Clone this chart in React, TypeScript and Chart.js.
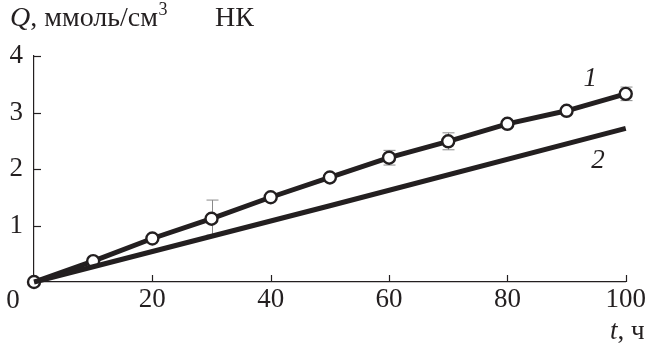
import React, { useEffect, useRef } from "react";
import { Chart, registerables } from "chart.js";

Chart.register(...registerables);

const timeH = [0, 10, 20, 30, 40, 50, 60, 70, 80, 90, 100];
const series1 = [0, 0.37, 0.77, 1.12, 1.5, 1.85, 2.2, 2.49, 2.8, 3.03, 3.33];
const err1Up = [0, 0, 0, 0.33, 0, 0, 0.13, 0.15, 0, 0, 0.12];
const err1Down = [0, 0, 0, 0.29, 0, 0, 0.13, 0.15, 0, 0, 0.12];
const time2 = [0, 50, 100];
const series2 = [0, 1.35, 2.72];
const xTicks = [0, 20, 40, 60, 80, 100];
const yTicks = [0, 1, 2, 3, 4];
const curveLabels = ["1", "2"];
const curveLabelX = [94, 95.3];
const curveLabelY = [3.6, 2.15];

const FONT = "'Liberation Serif', 'Times New Roman', serif";
const FS = 27;
const FT = 28;
const INK = "#231f20";

const annotate = {
  id: "annotate",
  beforeDatasetsDraw(chart: any) {
    const ctx = chart.ctx;
    const x = chart.scales.x;
    const y = chart.scales.y;
    ctx.save();
    ctx.strokeStyle = "#8a8a8a";
    ctx.lineWidth = 1;
    timeH.forEach((t, i) => {
      if (!err1Up[i] && !err1Down[i]) return;
      const px = Math.round(x.getPixelForValue(t)) + 0.5;
      const top = y.getPixelForValue(series1[i] + err1Up[i]);
      const bot = y.getPixelForValue(series1[i] - err1Down[i]);
      ctx.beginPath();
      ctx.moveTo(px, top);
      ctx.lineTo(px, bot);
      ctx.moveTo(px - 6, top);
      ctx.lineTo(px + 6, top);
      ctx.moveTo(px - 6, bot);
      ctx.lineTo(px + 6, bot);
      ctx.stroke();
    });
    ctx.restore();
  },
  afterDraw(chart: any) {
    const ctx = chart.ctx;
    const x = chart.scales.x;
    const y = chart.scales.y;
    const area = chart.chartArea;
    ctx.save();
    ctx.strokeStyle = INK;
    ctx.lineWidth = 1.2;
    xTicks.forEach((t) => {
      if (t === 0) return;
      const px = Math.round(x.getPixelForValue(t)) + 0.5;
      ctx.beginPath();
      ctx.moveTo(px, area.bottom);
      ctx.lineTo(px, area.bottom - 7);
      ctx.stroke();
    });
    yTicks.forEach((v) => {
      if (v === 0) return;
      const py = Math.round(y.getPixelForValue(v)) + 0.5;
      ctx.beginPath();
      ctx.moveTo(area.left, py);
      ctx.lineTo(area.left + 7, py);
      ctx.stroke();
    });
    ctx.fillStyle = INK;
    // origin label
    ctx.font = `${FS}px ${FONT}`;
    ctx.textAlign = "center";
    ctx.textBaseline = "middle";
    ctx.fillText("0", area.left - 21, area.bottom + 19);
    // curve labels
    ctx.font = `italic ${FS}px ${FONT}`;
    curveLabels.forEach((s, i) => {
      ctx.fillText(s, x.getPixelForValue(curveLabelX[i]), y.getPixelForValue(curveLabelY[i]));
    });
    // y title
    ctx.textAlign = "left";
    ctx.textBaseline = "alphabetic";
    let cx = 10;
    const by = 26;
    ctx.font = `italic ${FT}px ${FONT}`;
    ctx.fillText("Q", cx, by);
    cx += ctx.measureText("Q").width;
    ctx.font = `${FT}px ${FONT}`;
    const t1 = ", ммоль/см";
    ctx.fillText(t1, cx, by);
    cx += ctx.measureText(t1).width;
    ctx.font = `${Math.round(FT * 0.65)}px ${FONT}`;
    ctx.fillText("3", cx + 0.5, by - 11);
    ctx.font = `${FT}px ${FONT}`;
    ctx.fillText("НК", 215, by);
    // x title
    let tx = 610;
    const ty = 339;
    ctx.font = `italic ${FS}px ${FONT}`;
    ctx.fillText("t", tx, ty);
    tx += ctx.measureText("t").width;
    ctx.font = `${FS}px ${FONT}`;
    ctx.fillText(", ч", tx, ty);
    ctx.restore();
  },
};

export default function App() {
  const ref = useRef<HTMLCanvasElement>(null);
  useEffect(() => {
    if (!ref.current) return;
    const chart = new Chart(ref.current, {
      type: "line",
      data: {
        datasets: [
          {
            label: "2",
            data: time2.map((t, i) => ({ x: t, y: series2[i] })),
            borderColor: INK,
            borderWidth: 5,
            pointRadius: 0,
            fill: false,
            tension: 0,
            clip: false,
          },
          {
            label: "1",
            data: timeH.map((t, i) => ({ x: t, y: series1[i] })),
            borderColor: INK,
            borderWidth: 5,
            pointRadius: 6,
            pointBorderWidth: 2.4,
            pointBackgroundColor: "#ffffff",
            pointBorderColor: INK,
            fill: false,
            tension: 0,
            clip: false,
          },
        ],
      },
      options: {
        animation: false,
        responsive: true,
        maintainAspectRatio: false,
        layout: { padding: { left: 0, right: 22, top: 56, bottom: 0 } },
        plugins: {
          legend: { display: false },
          tooltip: { enabled: false },
          title: { display: false },
        },
        scales: {
          x: {
            type: "linear",
            min: 0,
            max: 100,
            afterBuildTicks: (s: any) => {
              s.ticks = xTicks.map((v) => ({ value: v }));
            },
            afterFit: (s: any) => {
              s.height = 64;
            },
            ticks: {
              callback: (v: any) => (v === 0 ? "" : String(v)),
              font: { family: FONT, size: FS },
              color: INK,
              padding: 2,
              maxRotation: 0,
              autoSkip: false,
            },
            grid: { display: false, drawTicks: false },
            border: { display: true, color: INK, width: 1.2 },
          },
          y: {
            type: "linear",
            min: 0,
            max: 4,
            afterBuildTicks: (s: any) => {
              s.ticks = yTicks.map((v) => ({ value: v }));
            },
            afterFit: (s: any) => {
              s.width = 34;
            },
            ticks: {
              callback: (v: any) => (v === 0 ? "" : String(v)),
              font: { family: FONT, size: FS },
              color: INK,
              padding: 11,
            },
            grid: { display: false, drawTicks: false },
            border: { display: true, color: INK, width: 1.2 },
          },
        },
      },
      plugins: [annotate],
    });
    return () => chart.destroy();
  }, []);
  return (
    <div style={{ position: "absolute", left: 0, top: 0, width: 648, height: 346, background: "#fff" }}>
      <canvas ref={ref} />
    </div>
  );
}
